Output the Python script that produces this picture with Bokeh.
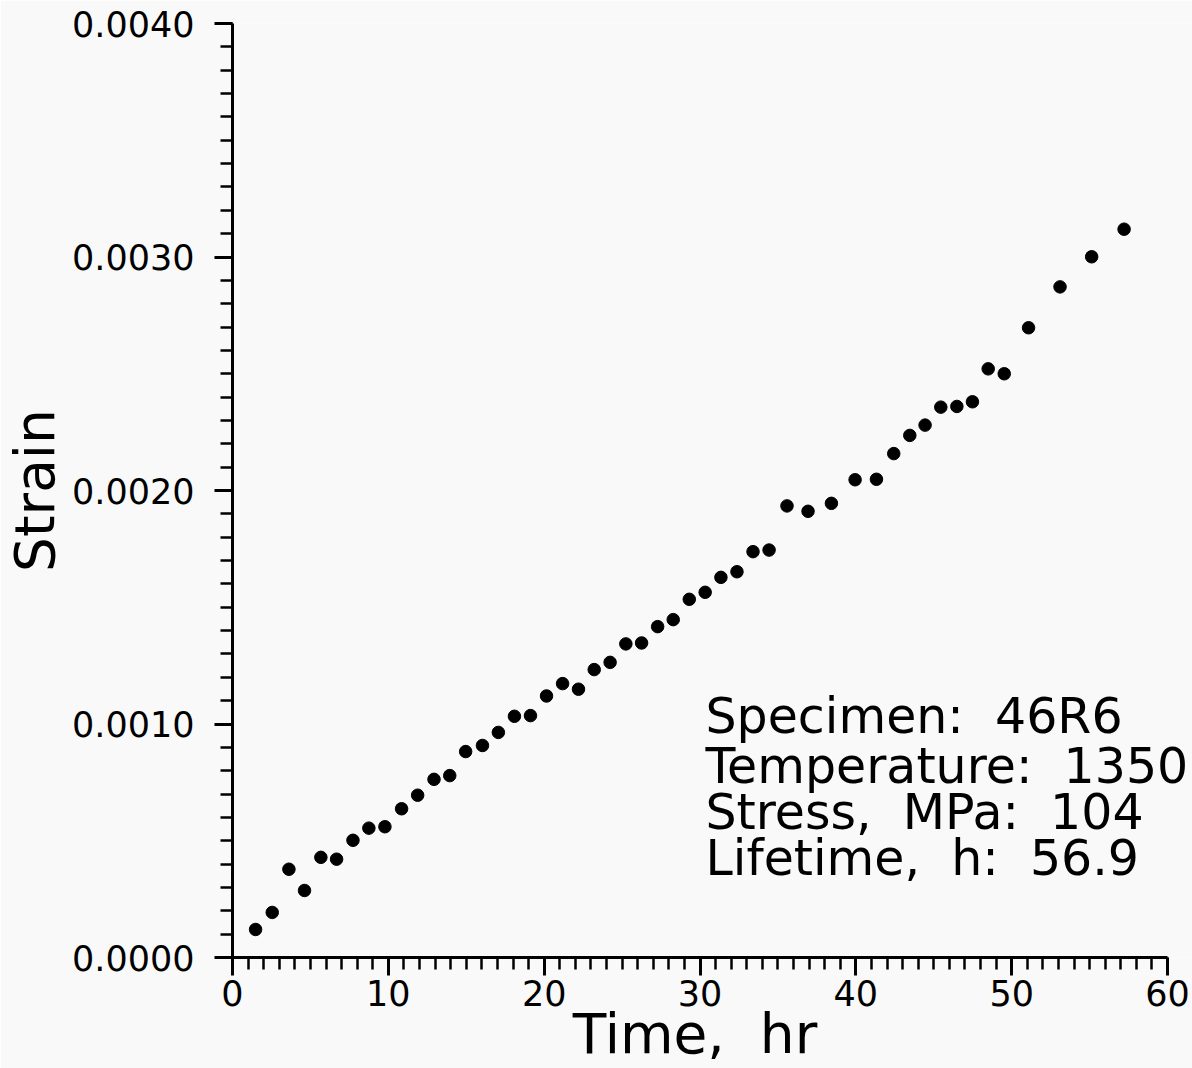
from bokeh.plotting import figure
from bokeh.models import Range1d, SingleIntervalTicker, PrintfTickFormatter, Label
from bokeh.embed import file_html
from bokeh.resources import INLINE

# Creep data
time_hr = [1.48, 2.55, 3.62, 4.62, 5.67, 6.68, 7.73, 8.75, 9.78, 10.85,
           11.88, 12.93, 13.94, 14.96, 16.04, 17.06, 18.09, 19.12, 20.15, 21.18,
           22.20, 23.21, 24.23, 25.24, 26.25, 27.28, 28.28, 29.31, 30.33, 31.34,
           32.37, 33.40, 34.43, 35.58, 36.93, 38.43, 39.95, 41.32, 42.43, 43.46,
           44.44, 45.45, 46.48, 47.48, 48.49, 49.52, 51.08, 53.10, 55.13, 57.21]
strain = [0.000120, 0.000193, 0.000378, 0.000287, 0.000429, 0.000421, 0.000502, 0.000554, 0.000560, 0.000637,
          0.000695, 0.000763, 0.000779, 0.000882, 0.000908, 0.000964, 0.001033, 0.001036, 0.001120, 0.001173,
          0.001149, 0.001233, 0.001264, 0.001343, 0.001347, 0.001417, 0.001447, 0.001534, 0.001564, 0.001628,
          0.001652, 0.001738, 0.001745, 0.001934, 0.001911, 0.001945, 0.002046, 0.002048, 0.002158, 0.002236,
          0.002280, 0.002357, 0.002360, 0.002380, 0.002521, 0.002500, 0.002697, 0.002872, 0.003001, 0.003119]

NB = "\u00a0"
info_lines = ["Specimen:" + NB + " 46R6", "Temperature:" + NB + " 1350",
              "Stress," + NB + " MPa:" + NB + " 104", "Lifetime," + NB + " h:" + NB + " 56.9"]
x_title = "Time," + NB + " hr" + NB * 2
y_title = "Strain"

FONT = "DejaVu Sans"
BG = "#f9f9f9"

p = figure(width=1192, height=1068, output_backend="svg", toolbar_location=None,
           x_range=Range1d(0, 61.6), y_range=Range1d(0, 0.0040),
           min_border_left=232, min_border_right=0, min_border_top=23, min_border_bottom=111,
           background_fill_color=BG, border_fill_color=BG)
p.outline_line_color = None
p.xgrid.visible = False
p.ygrid.visible = False

p.scatter(time_hr, strain, size=12.5, color="black")

for ax in (p.xaxis[0], p.yaxis[0]):
    ax.axis_line_width = 3
    ax.major_tick_line_width = 3
    ax.minor_tick_line_width = 2.5
    ax.major_tick_in = 0
    ax.major_tick_out = 18
    ax.minor_tick_in = 0
    ax.minor_tick_out = 12
    ax.major_label_text_font = FONT
    ax.major_label_text_font_size = "35px"
    ax.major_label_text_color = "black"
    ax.axis_label_text_font = FONT
    ax.axis_label_text_font_size = "55px"
    ax.axis_label_text_font_style = "normal"
    ax.axis_label_text_color = "black"

p.xaxis.bounds = (0, 60)
p.xaxis.ticker = SingleIntervalTicker(interval=10, num_minor_ticks=10)
p.xaxis.major_label_standoff = 4
p.xaxis.axis_label = x_title
p.xaxis.axis_label_standoff = -7

p.yaxis.bounds = (0, 0.0040)
p.yaxis.ticker = SingleIntervalTicker(interval=0.001, num_minor_ticks=10)
p.yaxis.formatter = PrintfTickFormatter(format="%.4f")
p.yaxis.major_label_standoff = 20
p.yaxis.axis_label = y_title
p.yaxis.axis_label_standoff = 2

base_y = [0.001030, 0.000820, 0.000623, 0.000426]
for txt, yy in zip(info_lines, base_y):
    p.add_layout(Label(x=30.35, y=yy, text=txt, text_font=FONT, text_font_size="49px",
                       text_color="black", text_baseline="alphabetic", text_align="left"))

open("out.html", "w").write(file_html(p, INLINE))
